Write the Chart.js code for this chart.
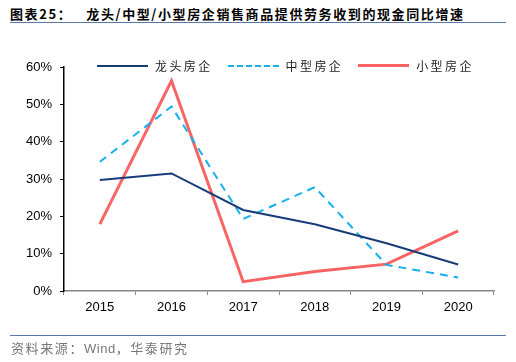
<!DOCTYPE html>
<html>
<head>
<meta charset="utf-8">
<script src="https://cdn.jsdelivr.net/npm/chart.js@4"></script>
<style>
  html, body { margin: 0; padding: 0; background: #fff; }
  #wrap { position: relative; width: 516px; height: 362px; overflow: hidden; font-family: "Liberation Sans", Arial, sans-serif; }
  #chart { position: absolute; left: 0; top: 0; }
  .title { position: absolute; left: 10px; top: 4px; font: bold 13px "Noto Sans CJK SC", sans-serif; color: #000; white-space: nowrap; letter-spacing: 1.6px; }
  .title .num { margin-right: 14px; }
  .rule { position: absolute; left: 10px; width: 496px; height: 0; border-top: 1.5px solid #5a76a8; }
  .legend { position: absolute; top: 57px; left: 97px; font: 12px "Noto Sans CJK SC", sans-serif; color: #222; white-space: nowrap; display: flex; align-items: center; }
  .legend .sw { display: inline-block; width: 51px; height: 0; margin-right: 7px; }
  .legend .lb { letter-spacing: 2.4px; margin-right: 15px; }
  .source { position: absolute; left: 11px; top: 338px; font: 13px "Noto Sans CJK SC", sans-serif; color: #777; white-space: nowrap; letter-spacing: 1.6px; }
  .source .en { font-family: "Liberation Sans", Arial, sans-serif; letter-spacing: 0.5px; }
</style>
</head>
<body>
<div id="wrap">
  <div class="title"><span class="num">图表25：</span>龙头/中型/小型房企销售商品提供劳务收到的现金同比增速</div>
  <div class="rule" style="top:22px"></div>
  <canvas id="chart" width="516" height="362"></canvas>
  <div class="legend" id="legend"></div>
  <div class="rule" style="top:335px"></div>
  <div class="source">资料来源：<span class="en">Wind</span>，华泰研究</div>
</div>
<script>
const years = ['2015', '2016', '2017', '2018', '2019', '2020'];
const leaders = [29.7, 31.5, 21.7, 17.9, 12.8, 7.1];
const midSize = [34.6, 49.4, 19.3, 27.8, 7.0, 3.6];
const smallSize = [17.9, 56.3, 2.5, 5.2, 7.2, 16.1];
const seriesNames = ['龙头房企', '中型房企', '小型房企'];

const datasets = [
  { label: seriesNames[0], data: leaders, borderColor: '#173c78', borderWidth: 2 },
  { label: seriesNames[1], data: midSize, borderColor: '#16b0ee', borderWidth: 2, borderDash: [8, 6] },
  { label: seriesNames[2], data: smallSize, borderColor: '#f86464', borderWidth: 3 },
].map((d) => ({ ...d, pointRadius: 0, tension: 0, fill: false }));

document.getElementById('legend').innerHTML = datasets.map((d) => {
  const style = d.borderDash ? `border-top:${d.borderWidth}px dashed ${d.borderColor}` : `border-top:${d.borderWidth}px solid ${d.borderColor}`;
  return `<span class="sw" style="${style}"></span><span class="lb">${d.label}</span>`;
}).join('');

new Chart(document.getElementById('chart'), {
  type: 'line',
  data: { labels: years, datasets },
  options: {
    responsive: false,
    animation: false,
    plugins: { legend: { display: false }, tooltip: { enabled: false } },
    layout: { padding: { top: 67, right: 22, bottom: 40, left: 0 } },
    scales: {
      x: {
        offset: true,
        grid: { offset: true, drawOnChartArea: false, drawTicks: true, tickLength: 4, color: '#888' },
        border: { color: '#888', width: 1.5 },
        ticks: { color: '#000', font: { family: 'Liberation Sans', size: 13 }, padding: 5, maxRotation: 0 },
        afterFit: (scale) => { scale.height = 31; },
      },
      y: {
        min: 0,
        max: 60,
        grid: { drawOnChartArea: false, drawTicks: true, tickLength: 4, color: '#000' },
        border: { color: '#000', width: 1.5 },
        ticks: { stepSize: 10, color: '#000', font: { family: 'Liberation Sans', size: 13 }, padding: 8, callback: (v) => v + '%' },
        afterFit: (scale) => { scale.width = 64; },
      },
    },
  },
});
</script>
</body>
</html>
